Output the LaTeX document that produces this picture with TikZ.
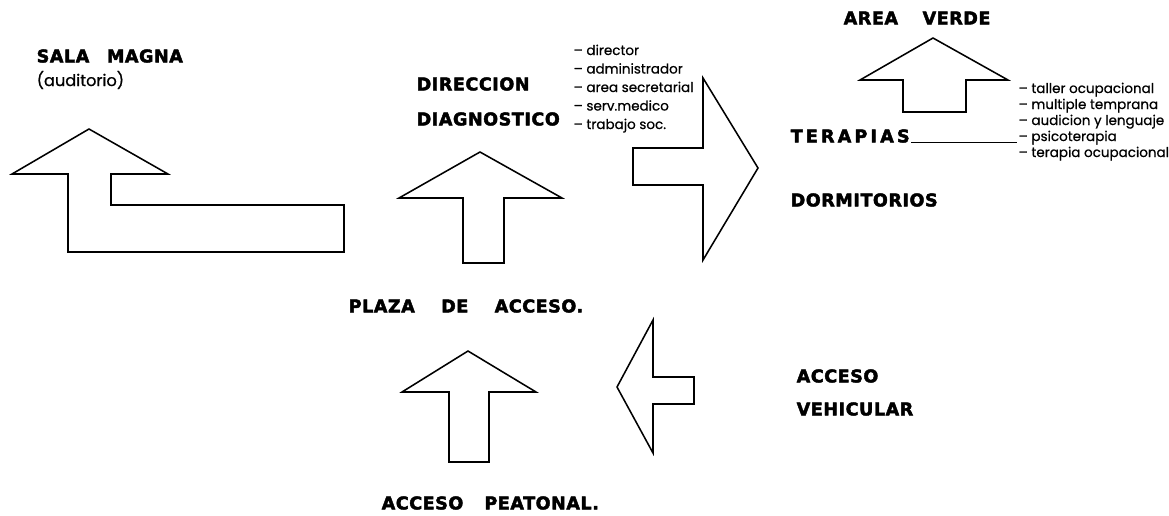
\documentclass[tikz,border=0pt]{standalone}
\usepackage{fontspec}
\setmainfont{Poppins}
\newfontfamily\headfont[LetterSpace=3, FakeBold=2.5]{DejaVu Sans}
\newfontfamily\itemfont[FakeBold=0.6]{Poppins}
\usepackage{tikz}
\tikzset{
	every node/.style={inner sep=1pt},
	head/.style={anchor=west, font=\headfont\bfseries\fontsize{12.5}{15}\selectfont},
	item/.style={anchor=base west, font=\itemfont\fontsize{9.6}{11}\selectfont},
	block/.style={draw=black, line width=1.1pt, line join=miter, fill=white},
}

\begin{document}
\begin{tikzpicture}[
            x=0.025cm,
            y=-0.025cm
        ]
        \useasboundingbox[fill=white] (0,0) rectangle (1169,515);

        \draw[block] (89,129) -- (168,174) -- (111,174) -- (111,205) -- (344,205)
            -- (344,252) -- (68,252) -- (68,174) -- (12,174) -- cycle;
        \draw[block] (480,152) -- (562,198) -- (504,198) -- (504,263)
            -- (463,263) -- (463,198) -- (399,198) -- cycle;
        \draw[block] (758,168) -- (703,260) -- (703,185) -- (633,185)
            -- (633,148) -- (703,148) -- (703,78) -- cycle;
        \draw[block] (933,38) -- (1008,80) -- (966,80) -- (966,112)
            -- (903,112) -- (903,80) -- (860,80) -- cycle;
        \draw[block] (468,351) -- (536,392) -- (489,392) -- (489,462)
            -- (449,462) -- (449,392) -- (402,392) -- cycle;
        \draw[block] (617,387) -- (653,320) -- (653,377) -- (694,377)
            -- (694,404) -- (653,404) -- (653,453) -- cycle;

        \node[head] (sala) at (35,56) {SALA\quad MAGNA};
        \node[anchor=west, font=\itemfont\fontsize{11.5}{13}\selectfont] (auditorio) at (35,80) {(auditorio)};

        \node[head] (direccion) at (415,84) {DIRECCION};
        \node[head] (diagnostico) at (415,119) {DIAGNOSTICO};
        \foreach \t [count=\i] in {director, administrador, area secretarial, serv.medico, trabajo soc.}
            \node[item] (dir\i) at (572,36.5+18.5*\i) {– \t};

        \node[head] (verde) at (842,18) {AREA\hspace{1.4em}VERDE};
        \node[head, font=\headfont\bfseries\fontsize{12.5}{15}\selectfont\addfontfeature{LetterSpace=18}] (terapias) at (789,136) {TERAPIAS};
        \node[head] (dormitorios) at (789,200) {DORMITORIOS};
        \foreach \t [count=\i] in {taller ocupacional, multiple temprana, audicion y lenguaje, psicoterapia, terapia ocupacional}
            \node[item] (ter\i) at (1017,77+16*\i) {– \t};
        \draw[line width=0.6pt] (terapias.base east) -- (terapias.base east -| ter4.west);

        \node[head] (plaza) at (347,306) {PLAZA\hspace{1.5em}DE\hspace{1.5em}ACCESO.};
        \node[head] (peatonal) at (380,503) {ACCESO\hspace{1.2em}PEATONAL.};
        \node[head] (acceso) at (795,376) {ACCESO};
        \node[head] (vehicular) at (795,409) {VEHICULAR};
    \end{tikzpicture}
\end{document}
